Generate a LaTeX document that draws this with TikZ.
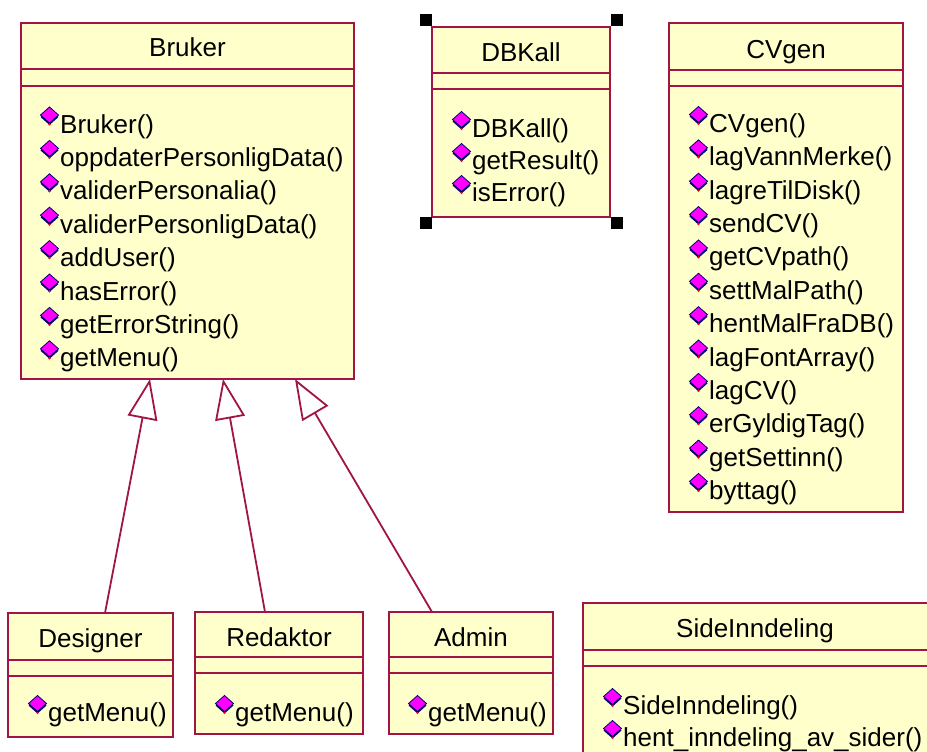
\documentclass[tikz,border=0pt]{standalone}
\usepackage{fontspec}
\setmainfont{Liberation Sans}
\usetikzlibrary{arrows.meta,calc}
\definecolor{umlline}{RGB}{160,20,70}
\definecolor{umlfill}{RGB}{255,255,204}
\definecolor{opmag}{RGB}{255,0,255}
\definecolor{opnavy}{RGB}{0,0,110}
\newcommand\umlops[5]{% prefix, text x, first baseline, step, list
  \foreach \mname [count=\i] in {#5} {
    \node[meth] (#1\i) at (#2, {#3+(\i-1)*#4}) {\mname};
    \pic at ([xshift=-10.5pt, yshift=18pt]#1\i.base west) {opicon};
  }}
\begin{document}
\begin{tikzpicture}[x=1pt,y=-1pt,
  cls/.style={draw=umlline, fill=umlfill, line width=1.8pt, outer sep=0pt, inner sep=0pt, anchor=north west},
  sepline/.style={draw=umlline, line width=1.8pt},
  title/.style={anchor=base, inner sep=0pt, font=\fontsize{26}{30}\selectfont},
  meth/.style={anchor=base west, inner sep=0pt, font=\fontsize{26}{30}\selectfont},
  gen/.style={draw=umlline, line width=1.8pt, -{Triangle[open, length=40pt, width=30pt]}},
  handle/.style={fill=black, minimum size=12pt, inner sep=0pt, outer sep=0pt},
  opicon/.pic={
    \fill[opnavy] (-9,2) -- (0,-6) -- (9,2) -- (0,10) -- cycle;
    \filldraw[fill=opmag, draw=opnavy, line width=0.8] (-9,0) -- (0,-8) -- (9,0) -- (0,8) -- cycle;
    \fill[red] (0,9.4) circle (1.3);
  }
]
\useasboundingbox (0,0) rectangle (927,752);
\clip (0,0) rectangle (927,752);
\fill[white] (0,0) rectangle (927,752);

% ---------- Bruker ----------
\node[cls, minimum width=333pt, minimum height=356pt] (bruker) at (21,23) {};
\draw[sepline] (21,69) -- (354,69);
\draw[sepline] (21,86) -- (354,86);
\node[title] (brukerT) at (187.5,57) {Bruker};
\umlops{bm}{60}{133}{33.4}{Bruker(),oppdaterPersonligData(),validerPersonalia(),validerPersonligData(),addUser(),hasError(),getErrorString(),getMenu()}

% ---------- DBKall ----------
\node[cls, minimum width=178pt, minimum height=190pt] (dbkall) at (432,27) {};
\draw[sepline] (432,73) -- (610,73);
\draw[sepline] (432,89) -- (610,89);
\node[title] (dbkallT) at (521,62) {DBKall};
\umlops{dm}{472}{137.5}{32}{DBKall(),getResult(),isError()}
\node[handle] (h1) at (426,20) {};
\node[handle] (h2) at (617,20) {};
\node[handle] (h3) at (426,223) {};
\node[handle] (h4) at (617,223) {};

% ---------- CVgen ----------
\node[cls, minimum width=234pt, minimum height=489pt] (cvgen) at (669,23) {};
\draw[sepline] (669,70) -- (903,70);
\draw[sepline] (669,86) -- (903,86);
\node[title] (cvgenT) at (786,58.5) {CVgen};
\umlops{cm}{709}{132.5}{33.36}{CVgen(),lagVannMerke(),lagreTilDisk(),sendCV(),getCVpath(),settMalPath(),hentMalFraDB(),lagFontArray(),lagCV(),erGyldigTag(),getSettinn(),byttag()}

% ---------- Designer ----------
\node[cls, minimum width=165pt, minimum height=124pt] (designer) at (8,613) {};
\draw[sepline] (8,660) -- (173,660);
\draw[sepline] (8,676) -- (173,676);
\node[title] (designerT) at (90.5,647.5) {Designer};
\umlops{gm}{48}{721.5}{33}{getMenu()}

% ---------- Redaktor ----------
\node[cls, minimum width=168pt, minimum height=122pt] (redaktor) at (195,612) {};
\draw[sepline] (195,657) -- (363,657);
\draw[sepline] (195,673) -- (363,673);
\node[title] (redaktorT) at (279,646.5) {Redaktor};
\umlops{rm}{235}{721.5}{33}{getMenu()}

% ---------- Admin ----------
\node[cls, minimum width=164pt, minimum height=122pt] (admin) at (389,612) {};
\draw[sepline] (389,657) -- (553,657);
\draw[sepline] (389,673) -- (553,673);
\node[title] (adminT) at (471,646.5) {Admin};
\umlops{am}{428}{721.5}{33}{getMenu()}

% ---------- SideInndeling ----------
\node[cls, minimum width=360pt, minimum height=200pt] (side) at (583,603) {};
\draw[sepline] (583,650) -- (940,650);
\draw[sepline] (583,666) -- (940,666);
\node[title] (sideT) at (755,637.5) {SideInndeling};
\umlops{sm}{623}{714.5}{32}{SideInndeling(),hent\_inndeling\_av\_sider()}

% ---------- Generalizations ----------
\draw[gen] ([xshift=97pt]designer.north west) -- ([xshift=129pt]bruker.south west);
\draw[gen] ([xshift=70pt]redaktor.north west) -- ([xshift=202pt]bruker.south west);
\draw[gen] ([xshift=43pt]admin.north west) -- ([xshift=274pt]bruker.south west);
\end{tikzpicture}
\end{document}
